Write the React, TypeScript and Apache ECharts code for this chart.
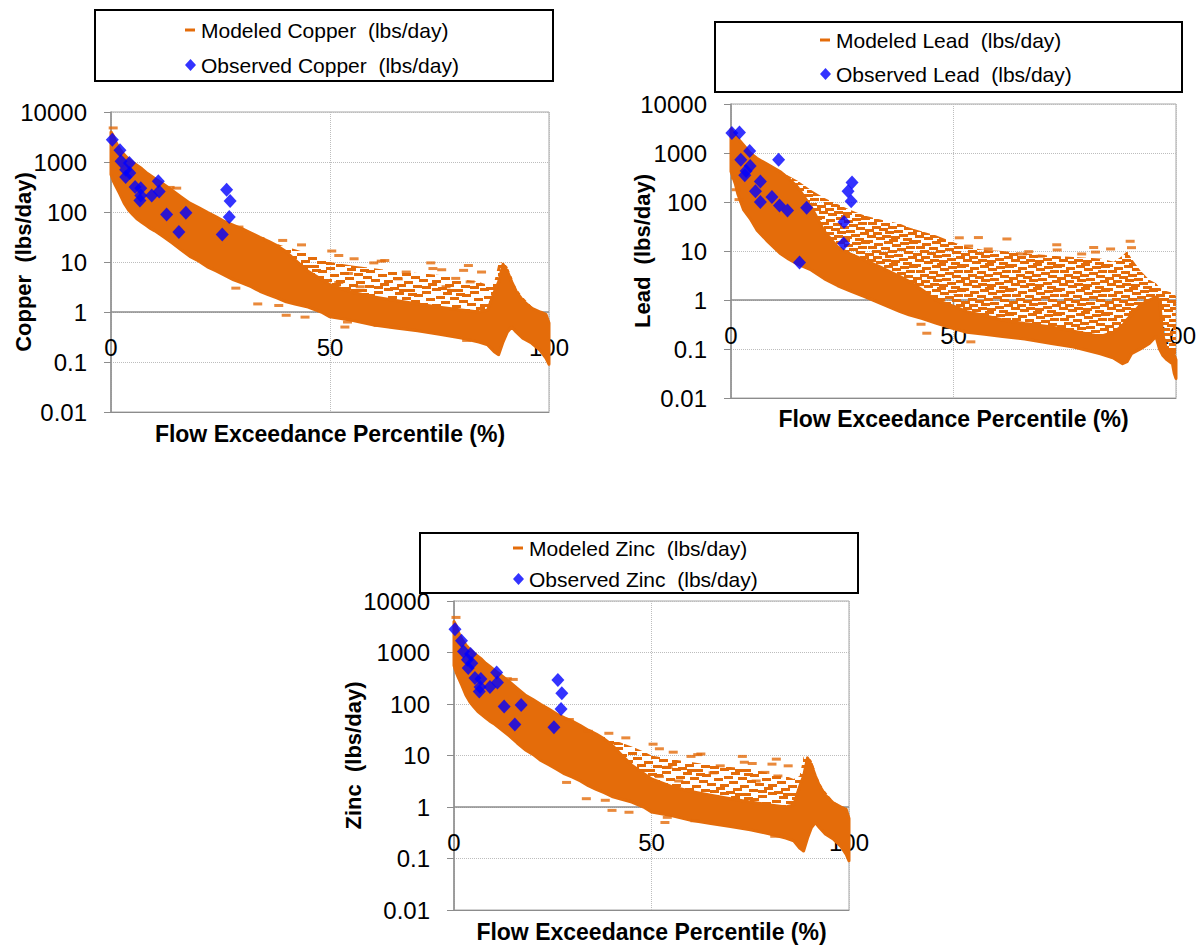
import React, { useEffect, useRef } from "react";
import * as echarts from "echarts";

// ---------- DATA ----------
// Copper panel: modeled load cloud, described by columns of flow percentile
// with the bottom of the cloud, the top of its solid part and the top of its scattered part.
const copperFlow = [0, 0.5, 1, 2, 3, 4, 5, 6, 7, 8, 9, 10, 12, 14, 16, 18, 20, 22, 24, 26, 28, 30, 32, 34, 36, 38, 40, 42, 45, 48, 50, 55, 60, 65, 70, 75, 80, 84, 86, 87.5, 88.5, 89.5, 90.5, 91.5, 92.5, 94, 96, 98, 99.3, 100];
const copperLow = [560, 420, 340, 230, 150, 110, 88, 72, 62, 54, 47, 42, 32, 24, 17.5, 13, 10.5, 8, 6.6, 5.4, 4.4, 3.8, 3.2, 2.6, 2.2, 1.9, 1.6, 1.45, 1.25, 1.0, 0.8, 0.68, 0.55, 0.48, 0.42, 0.36, 0.3, 0.25, 0.22, 0.16, 0.14, 0.25, 0.4, 0.5, 0.4, 0.3, 0.24, 0.17, 0.12, 0.09];
const copperCore = [4000, 3400, 2600, 1800, 1400, 1150, 980, 850, 740, 620, 540, 470, 360, 270, 200, 150, 122, 98, 80, 64, 54, 46, 38, 31, 26, 21, 16, 11, 6.5, 4.5, 3.5, 2.5, 2.0, 1.7, 1.45, 1.25, 1.1, 1.0, 1.1, 2.5, 4, 9, 6.5, 4, 2.6, 1.7, 1.2, 1.0, 0.9, 0.6];
const copperSpread = [4000, 3400, 2600, 1800, 1400, 1150, 980, 850, 740, 620, 540, 470, 360, 270, 200, 150, 122, 98, 80, 64, 54, 46, 38, 31, 27, 23, 20, 18, 15, 12, 10, 8.5, 7.5, 6.5, 6, 5.5, 4.5, 4, 3.5, 4, 9.5, 10, 8, 5, 3, 2, 1.3, 1.05, 0.95, 0.6];
// isolated modeled dashes outside the cloud
const copperDashFlow = [0.5, 13.5, 15, 29.2, 34, 39.2, 43.5, 50.4, 52, 55.5, 60, 61.7, 62.5, 65.6, 67.4, 73, 73.5, 75.5, 76.5, 78.7, 80.5, 81.6, 82, 84.6, 54.2, 52, 56.9, 28.5, 33.5, 38.3, 40, 44.3, 53.4, 54, 61, 64.5, 81.2];
const copperDashLoad = [4800, 310, 300, 50, 29.5, 27, 22, 16.6, 13.5, 11.6, 9.6, 10.4, 10.7, 4.6, 6.3, 9.6, 7.4, 7, 3.2, 4.7, 6.8, 8.5, 4, 6.3, 5.9, 3.9, 3.2, 3.0, 1.45, 1.35, 0.86, 0.79, 0.5, 0.63, 0.54, 0.51, 0.27];
const copperObsFlow = [0.3, 2.05, 2.3, 4.2, 3.35, 4.3, 3.35, 5.5, 6.8, 6.8, 6.6, 9.3, 10.8, 11.0, 12.7, 17.1, 15.5, 25.4, 26.4, 27.2, 27.0];
const copperObsLoad = [2800, 1710, 1040, 960, 700, 605, 500, 315, 300, 215, 170, 215, 410, 258, 89, 97, 40, 35.6, 280, 166, 79];

// Lead panel
const leadFlow = [0, 1, 1.5, 2.8, 4.3, 5.8, 8, 11, 13, 15, 18, 21, 24, 27, 30, 34, 38, 40, 43, 46, 50, 53, 57, 61, 66, 72, 77, 83, 86, 88, 89, 90, 92, 94, 95.5, 96.3, 97, 98, 99.2, 99.6, 100];
const leadLow = [420, 230, 150, 70, 46, 27, 16.5, 9, 6.8, 5.4, 4.1, 2.7, 1.95, 1.5, 1.17, 0.82, 0.58, 0.5, 0.42, 0.34, 0.26, 0.22, 0.2, 0.18, 0.16, 0.13, 0.11, 0.08, 0.065, 0.05, 0.055, 0.08, 0.1, 0.13, 0.18, 0.1, 0.075, 0.06, 0.05, 0.032, 0.025];
const leadCore = [3100, 2300, 2000, 1450, 1000, 780, 600, 420, 300, 200, 80, 25, 12, 8.5, 6.5, 4.5, 3, 2.4, 1.6, 1.0, 0.75, 0.58, 0.48, 0.39, 0.33, 0.28, 0.23, 0.18, 0.22, 0.3, 0.4, 0.5, 0.8, 1.0, 1.15, 1.0, 0.2, 0.09, 0.085, 0.075, 0.06];
const leadSpread = [3100, 2300, 2000, 1450, 1000, 780, 600, 420, 340, 270, 175, 120, 90, 68, 53, 43, 36, 30, 25, 21, 15, 12, 10.5, 10, 9, 8, 7.5, 7, 6, 8, 10, 7, 4, 2.6, 2.2, 1.8, 1.6, 1.5, 1.4, 1.3, 1.2];
const leadDashFlow = [1, 1.2, 1.8, 51.3, 55.6, 62, 53.4, 57.8, 65.5, 66.9, 69.5, 73.2, 73.3, 78.8, 81.5, 81.9, 85.3, 89.7, 90, 42.7, 44, 53.9];
const leadDashLoad = [310, 178, 112, 18.6, 18.8, 17.6, 12.6, 11, 8.7, 9.7, 7.8, 13.4, 10.5, 8.7, 11.8, 9.5, 11, 15.8, 11.7, 0.32, 0.21, 0.14];
const leadObsFlow = [0.2, 1.9, 4.2, 2.2, 10.7, 4.3, 3.4, 3.1, 6.6, 5.5, 6.6, 9.2, 10.9, 12.7, 17.0, 27.2, 26.3, 27.0, 25.4, 25.3, 15.4];
const leadObsLoad = [2560, 2610, 1100, 730, 730, 540, 430, 350, 262, 166, 100, 126, 85, 67, 76, 250, 166, 104, 39, 14.2, 5.8];

// Zinc panel: its modeled cloud reads the same as the copper cloud in the source figure
const zincFlow = copperFlow;
const zincLow = copperLow;
const zincCore = copperCore;
const zincSpread = copperSpread;
const zincDashFlow = copperDashFlow;
const zincDashLoad = copperDashLoad;
const zincObsFlow = [0.25, 1.9, 2.4, 4.2, 3.4, 4.5, 3.6, 5.3, 6.8, 6.6, 6.4, 9.1, 10.8, 11.0, 12.7, 17.0, 15.4, 25.3, 26.3, 27.3, 27.1];
const zincObsLoad = [2840, 1700, 1050, 940, 720, 620, 500, 320, 305, 213, 175, 213, 410, 262, 89, 96, 40, 35.5, 293, 162, 80];

const xTitle = "Flow Exceedance Percentile (%)";
const AXIS_CROSS_LOAD = 1; // the flow axis crosses the load axis at 1 lbs/day

// ---------- STYLE / LAYOUT ----------
const ORANGE = "#E46C0A";
const BLUE = "#0000FF";
const FONT = "'Liberation Sans', Arial, Helvetica, sans-serif";
const AXIS_GRAY = "#8c8c8c";

const panels = [
  {
    metal: "Copper", flow: copperFlow, low: copperLow, core: copperCore, spread: copperSpread,
    dashFlow: copperDashFlow, dashLoad: copperDashLoad, obsFlow: copperObsFlow, obsLoad: copperObsLoad,
    grid: { left: 111, top: 112, width: 438, height: 300 },
    box: { x: 95, y: 10, width: 458, height: 71 },
    legend: { left: 185, top: 18, gap: 11 },
    yNameGap: 77, xNameGap: 10, xLabelMargin: -65, dense: false,
  },
  {
    metal: "Lead", flow: leadFlow, low: leadLow, core: leadCore, spread: leadSpread,
    dashFlow: leadDashFlow, dashLoad: leadDashLoad, obsFlow: leadObsFlow, obsLoad: leadObsLoad,
    grid: { left: 731, top: 104, width: 445, height: 294 },
    box: { x: 715, y: 22, width: 467, height: 70 },
    legend: { left: 820, top: 28, gap: 10 },
    yNameGap: 78, xNameGap: 9, xLabelMargin: -63, dense: true,
  },
  {
    metal: "Zinc", flow: zincFlow, low: zincLow, core: zincCore, spread: zincSpread,
    dashFlow: zincDashFlow, dashLoad: zincDashLoad, obsFlow: zincObsFlow, obsLoad: zincObsLoad,
    grid: { left: 454, top: 601, width: 395, height: 309 },
    box: { x: 420, y: 533, width: 438, height: 60 },
    legend: { left: 513, top: 536, gap: 7 },
    yNameGap: 90, xNameGap: 10, xLabelMargin: -68, dense: false,
  },
];

const DASH_ICON = "path://M0,0 M0,4.5 L10,4.5 L10,7.5 L0,7.5 Z M11,12";

// texture tiles (48x24 px) for the scattered part of each cloud; each spot is a 9x3 px dash
const TILE_W = 48;
const TILE_H = 24;
const DENSE_SPOTS = [
  [0, 0], [20, 1], [36, 2], [10, 3], [28, 4], [42, 6], [4, 6], [17, 7], [33, 8],
  [24, 10], [8, 10], [40, 11], [15, 12], [1, 13], [30, 14], [21, 15], [44, 16], [9, 16],
  [35, 18], [3, 19], [18, 19], [27, 20], [12, 21], [39, 22], [45, 1], [25, 23],
];
const LIGHT_SPOTS = [
  [0, 0], [22, 1], [38, 3], [11, 4], [30, 6], [4, 8], [18, 9], [42, 10], [27, 12], [9, 13],
  [35, 15], [0, 16], [20, 17], [44, 19], [13, 20], [29, 21], [6, 23], [38, 22], [24, 5], [15, 1],
];

function makeTile(spots: number[][]) {
  const c = document.createElement("canvas");
  c.width = TILE_W;
  c.height = TILE_H;
  const ctx = c.getContext("2d");
  if (ctx) {
    ctx.fillStyle = ORANGE;
    spots.forEach(([x, y]) => {
      for (const dx of [0, -TILE_W]) for (const dy of [0, -TILE_H]) ctx.fillRect(x + dx, y + dy, 9, 3);
    });
  }
  return c;
}

function logLabel(v: number) {
  const e = Math.round(Math.log10(v));
  return e < 0 ? v.toFixed(-e) : String(Math.round(v));
}

export default function App() {
  const ref = useRef<HTMLDivElement>(null);

  useEffect(() => {
    if (!ref.current) return;
    const chart = echarts.init(ref.current, undefined, { renderer: "svg" });

    const lightTile = makeTile(LIGHT_SPOTS);
    const denseTile = makeTile(DENSE_SPOTS);

    const grids: any[] = [];
    const xAxes: any[] = [];
    const yAxes: any[] = [];
    const series: any[] = [];
    const legends: any[] = [];
    const graphics: any[] = [];

    panels.forEach((p, i) => {
      const modeledName = `Modeled ${p.metal}  (lbs/day)`;
      const observedName = `Observed ${p.metal}  (lbs/day)`;
      const tile = p.dense ? denseTile : lightTile;

      grids.push({ ...p.grid, show: true, borderColor: "#a6a6a6", borderWidth: 1, backgroundColor: "transparent" });

      xAxes.push({
        gridIndex: i, type: "value", min: 0, max: 100, interval: 50,
        name: xTitle, nameLocation: "middle", nameGap: p.xNameGap, nameMoveOverlap: false,
        nameTextStyle: { fontFamily: FONT, fontWeight: "bold", fontSize: 23, color: "#000" },
        axisLine: { show: true, onZero: false, lineStyle: { color: AXIS_GRAY, width: 1 } },
        axisTick: { show: false },
        axisLabel: { margin: p.xLabelMargin, fontSize: 24, fontFamily: FONT, color: "#000", verticalAlign: "middle", showMinLabel: true, showMaxLabel: true },
        splitLine: { show: true, lineStyle: { type: "dotted", color: "#bdbdbd", width: 1 } },
      });

      yAxes.push({
        gridIndex: i, type: "log", logBase: 10, min: 0.01, max: 10000, splitNumber: 6,
        name: `${p.metal}  (lbs/day)`, nameLocation: "middle", nameGap: p.yNameGap, nameMoveOverlap: false,
        nameTextStyle: { fontFamily: FONT, fontWeight: "bold", fontSize: 22, color: "#000" },
        axisLine: { show: true, lineStyle: { color: AXIS_GRAY, width: 1.5 } },
        axisTick: { show: true, inside: false, length: 7, lineStyle: { color: AXIS_GRAY } },
        axisLabel: { margin: 24, fontSize: 24, fontFamily: FONT, color: "#000", formatter: logLabel },
        splitLine: { show: true, lineStyle: { type: "dotted", color: "#bdbdbd", width: 1 } },
        minorTick: { show: false },
      });

      // modeled cloud (solid part + scattered part) drawn through the axes' scales,
      // with the crossing flow axis (at load = 1) underneath it
      series.push({
        type: "custom", name: modeledName, coordinateSystem: "cartesian2d",
        xAxisIndex: i, yAxisIndex: i, clip: false, z: 2, silent: true,
        itemStyle: { color: ORANGE },
        data: [[p.flow[0], p.low[0]]],
        renderItem: (_params: any, api: any) => {
          const top = p.flow.map((x, k) => api.coord([x, p.core[k]]));
          const bottom = p.flow.map((x, k) => api.coord([x, p.low[k]])).reverse();
          const spreadTop = p.flow.map((x, k) => api.coord([x, p.spread[k]]));
          const coreTopRev = p.flow.map((x, k) => api.coord([x, p.core[k]])).reverse();
          const a0 = api.coord([0, AXIS_CROSS_LOAD]);
          const a1 = api.coord([100, AXIS_CROSS_LOAD]);
          const mid = api.coord([50, AXIS_CROSS_LOAD]);
          return {
            type: "group",
            children: [
              {
                type: "line",
                shape: { x1: a0[0], y1: a0[1], x2: a1[0], y2: a1[1] },
                style: { stroke: AXIS_GRAY, lineWidth: 1.5 },
              },
              {
                type: "line",
                shape: { x1: mid[0], y1: mid[1], x2: mid[0], y2: mid[1] + 6 },
                style: { stroke: AXIS_GRAY, lineWidth: 1.5 },
              },
              {
                type: "polygon",
                shape: { points: [...spreadTop, ...coreTopRev] },
                style: { fill: { image: tile, repeat: "repeat", imageWidth: TILE_W, imageHeight: TILE_H }, stroke: null },
              },
              {
                type: "polygon",
                shape: { points: [...top, ...bottom] },
                style: { fill: ORANGE, stroke: ORANGE, lineWidth: 3, lineJoin: "round" },
              },
            ],
          };
        },
      });

      // isolated modeled dashes
      series.push({
        type: "scatter", name: modeledName, xAxisIndex: i, yAxisIndex: i, z: 2,
        symbol: "rect", symbolSize: [9, 3], itemStyle: { color: ORANGE },
        data: p.dashFlow.map((x, k) => [x, p.dashLoad[k]]),
      });

      // observed loads
      series.push({
        type: "scatter", name: observedName, xAxisIndex: i, yAxisIndex: i, z: 3,
        symbol: "diamond", symbolSize: [13, 14], itemStyle: { color: BLUE },
        data: p.obsFlow.map((x, k) => [x, p.obsLoad[k]]),
      });

      legends.push({
        orient: "vertical", left: p.legend.left, top: p.legend.top, itemGap: p.legend.gap,
        itemWidth: 11, itemHeight: 12, padding: 0, selectedMode: false,
        textStyle: { fontFamily: FONT, fontSize: 21, color: "#000", lineHeight: 24 },
        data: [{ name: modeledName, icon: DASH_ICON }, { name: observedName, icon: "diamond" }],
      });

      graphics.push({
        type: "rect", z: 100, silent: true,
        shape: { x: p.box.x, y: p.box.y, width: p.box.width, height: p.box.height },
        style: { fill: "transparent", stroke: "#000", lineWidth: 2 },
      });
    });

    chart.setOption({
      animation: false,
      backgroundColor: "#ffffff",
      textStyle: { fontFamily: FONT },
      grid: grids,
      xAxis: xAxes,
      yAxis: yAxes,
      legend: legends,
      graphic: graphics,
      series,
    });

    return () => chart.dispose();
  }, []);

  return (
    <div
      ref={ref}
      style={{ position: "fixed", left: 0, top: 0, width: 1202, height: 949, background: "#fff" }}
    />
  );
}
